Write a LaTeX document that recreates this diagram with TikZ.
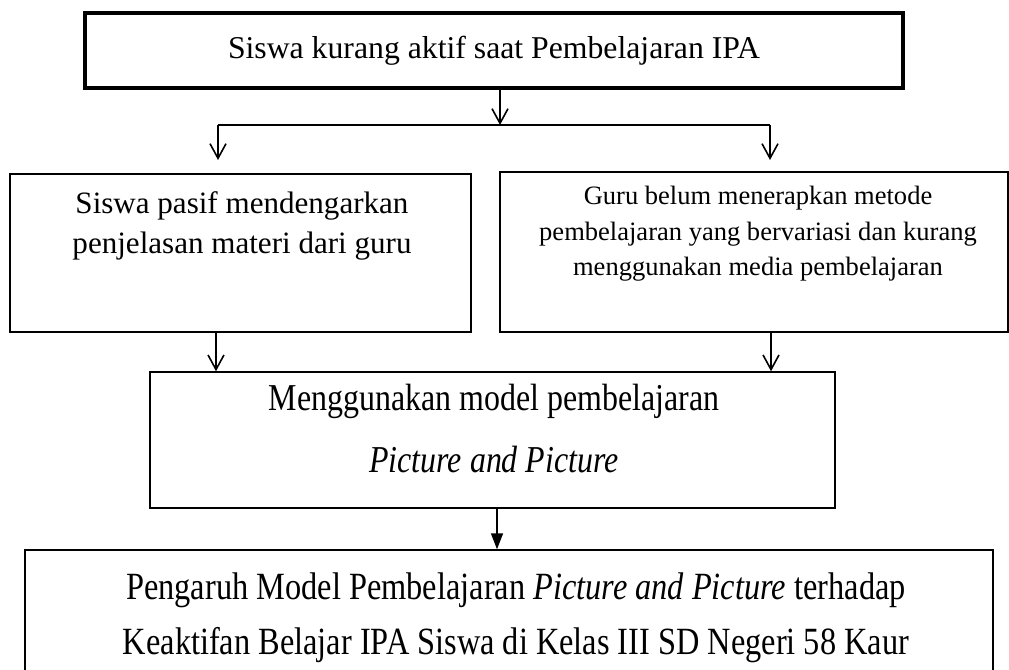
\documentclass[tikz,border=0pt]{standalone}
\usepackage{fontspec}
\setmainfont{Liberation Serif}
\newfontfamily\schmal[FakeStretch=0.84]{Liberation Serif}
\usetikzlibrary{arrows.meta}

\begin{document}
\begin{tikzpicture}[x=0.75pt, y=-0.75pt,
  kasten/.style={draw, line width=1.1pt, inner sep=0pt},
  pfeil/.style={line width=1.2pt, -{Straight Barb[length=11pt, width=12pt]}},
  spitze/.style={line width=1.2pt, -{Triangle[length=12pt, width=9pt]}}]
  \clip (0,0) rectangle (1009,670);
  % Problem oben
  \node[kasten, line width=3.6pt, minimum width=613.5pt, minimum height=56.25pt,
    font=\fontsize{23.8}{28}\selectfont] (problem) at (494,50.5)
    {Siswa kurang aktif saat Pembelajaran IPA};
  % Verzweigung
  \coordinate (gabel) at (500,125);
  \draw[pfeil] (gabel |- problem.south) -- (gabel);
  \foreach \s/\x in {L/218, R/770}{
    \coordinate (gabel\s) at (\x,125);
    \coordinate (ziel\s) at (\x,160);
    \draw[pfeil] (gabel\s) -- (ziel\s);
  }
  \draw[line width=1.2pt] (gabelL) -- (gabelR);
  % Ursachen
  \node[kasten, minimum width=345.75pt, minimum height=118.5pt] (pasif) at (240.5,253) {};
  \node[align=center, font=\fontsize{23.3}{30.5}\selectfont] (pasiftxt) at (242,226)
    {Siswa pasif mendengarkan\\penjelasan materi dari guru};
  \node[kasten, minimum width=381pt, minimum height=120pt] (guru) at (754,252) {};
  \node[align=center, font=\fontsize{19.9}{26.6}\selectfont] (gurutxt) at (758,234)
    {Guru belum menerapkan metode\\pembelajaran yang bervariasi dan kurang\\menggunakan media pembelajaran};
  % Loesung
  \node[kasten, minimum width=513.75pt, minimum height=102pt] (modell) at (492.5,440) {};
  \node[align=center, font=\schmal\fontsize{28.5}{46.5}\selectfont] (modelltxt) at (494,429)
    {Menggunakan model pembelajaran\\\textit{Picture and Picture}};
  \draw[pfeil] (216,0 |- pasif.south) -- (216,0 |- modell.north);
  \draw[pfeil] (771,0 |- guru.south) -- (771,0 |- modell.north);
  % Judul unten
  \node[kasten, minimum width=726pt, minimum height=112.5pt] (judul) at (509,625) {};
  \node[align=center, font=\schmal\fontsize{28.9}{41}\selectfont] (judultxt) at (516,617.5)
    {Pengaruh Model Pembelajaran \textit{Picture and Picture} terhadap\\
     Keaktifan Belajar IPA Siswa di Kelas III SD Negeri 58 Kaur};
  \draw[spitze] (497,0 |- modell.south) -- (497,0 |- judul.north);
\end{tikzpicture}
\end{document}
